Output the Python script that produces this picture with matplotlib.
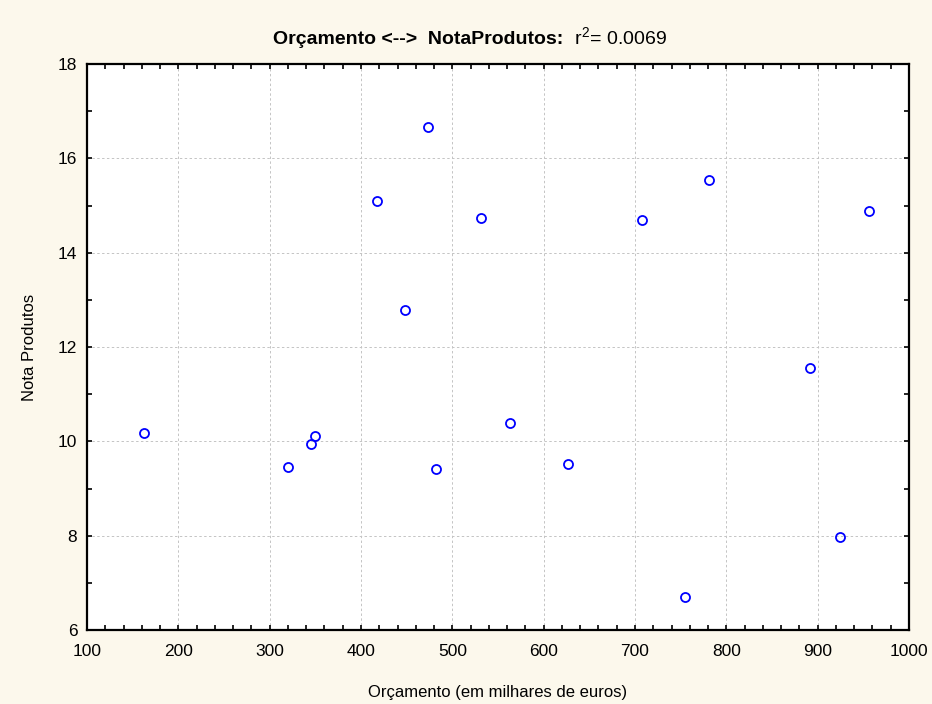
import matplotlib
matplotlib.use("Agg")
import matplotlib.pyplot as plt
from matplotlib.ticker import MultipleLocator

plt.rcParams['font.family'] = ['Liberation Sans', 'DejaVu Sans']
plt.rcParams['mathtext.fontset'] = 'custom'
plt.rcParams['mathtext.rm'] = 'Liberation Sans'
plt.rcParams['mathtext.it'] = 'Liberation Sans'

# Orçamento (milhares de euros) vs Nota Produtos
orcamento = [162, 320, 345, 350, 418, 448, 473, 482, 531, 563, 627, 708, 755, 781, 892, 924, 956]
nota_produtos = [10.18, 9.45, 9.95, 10.12, 15.10, 12.79, 16.67, 9.41, 14.73, 10.39, 9.53, 14.69, 6.70, 15.55, 11.55, 7.97, 14.89]

x_label = "Orçamento (em milhares de euros)"
y_label = "Nota Produtos"
title_bold = "Orçamento <-->  NotaProdutos:"
title_rest = "  r$^2$= 0.0069"

bg = "#FCF8EC"

fig = plt.figure(figsize=(9.32, 7.04), dpi=100, facecolor=bg)
ax = fig.add_axes([87/932, 1-630/704, (909-87)/932, (630-64)/704])
ax.set_facecolor("white")

ax.plot(orcamento, nota_produtos, linestyle='none', marker='o', markersize=6.5,
        markerfacecolor='none', markeredgecolor='#0000FF', markeredgewidth=1.3)

ax.set_xlim(100, 1000)
ax.set_ylim(6, 18)
ax.xaxis.set_major_locator(MultipleLocator(100))
ax.xaxis.set_minor_locator(MultipleLocator(20))
ax.yaxis.set_major_locator(MultipleLocator(2))
ax.yaxis.set_minor_locator(MultipleLocator(1))
ax.tick_params(which='both', direction='in', top=True, right=True, length=3.5,
               width=1.2, labelsize=12.5, colors='black')
ax.tick_params(axis='x', pad=10)
ax.tick_params(axis='y', pad=7)

ax.grid(True, which='major', color='#C4C4C4', linestyle=(0, (2.5, 2.5)), linewidth=0.7)
ax.set_axisbelow(True)
for s in ax.spines.values():
    s.set_linewidth(1.6)

ax.set_xlabel(x_label, fontsize=12, labelpad=19)
ax.set_ylabel(y_label, fontsize=12, labelpad=15)

# title: bold part + normal part, centred together on one baseline
t1 = fig.text(0.5, 1-44/704, title_bold, fontsize=14, fontweight='bold', va='baseline', ha='left')
t2 = fig.text(0.5, 1-44/704, title_rest, fontsize=14, va='baseline', ha='left')
fig.canvas.draw()
r = fig.canvas.get_renderer()
w1 = t1.get_window_extent(r).width
w2 = t2.get_window_extent(r).width
cx = 470
x0 = cx - (w1 + w2) / 2
t1.set_x(x0 / 932)
t2.set_x((x0 + w1) / 932)

fig.savefig("out.png", dpi=100, facecolor=bg)
